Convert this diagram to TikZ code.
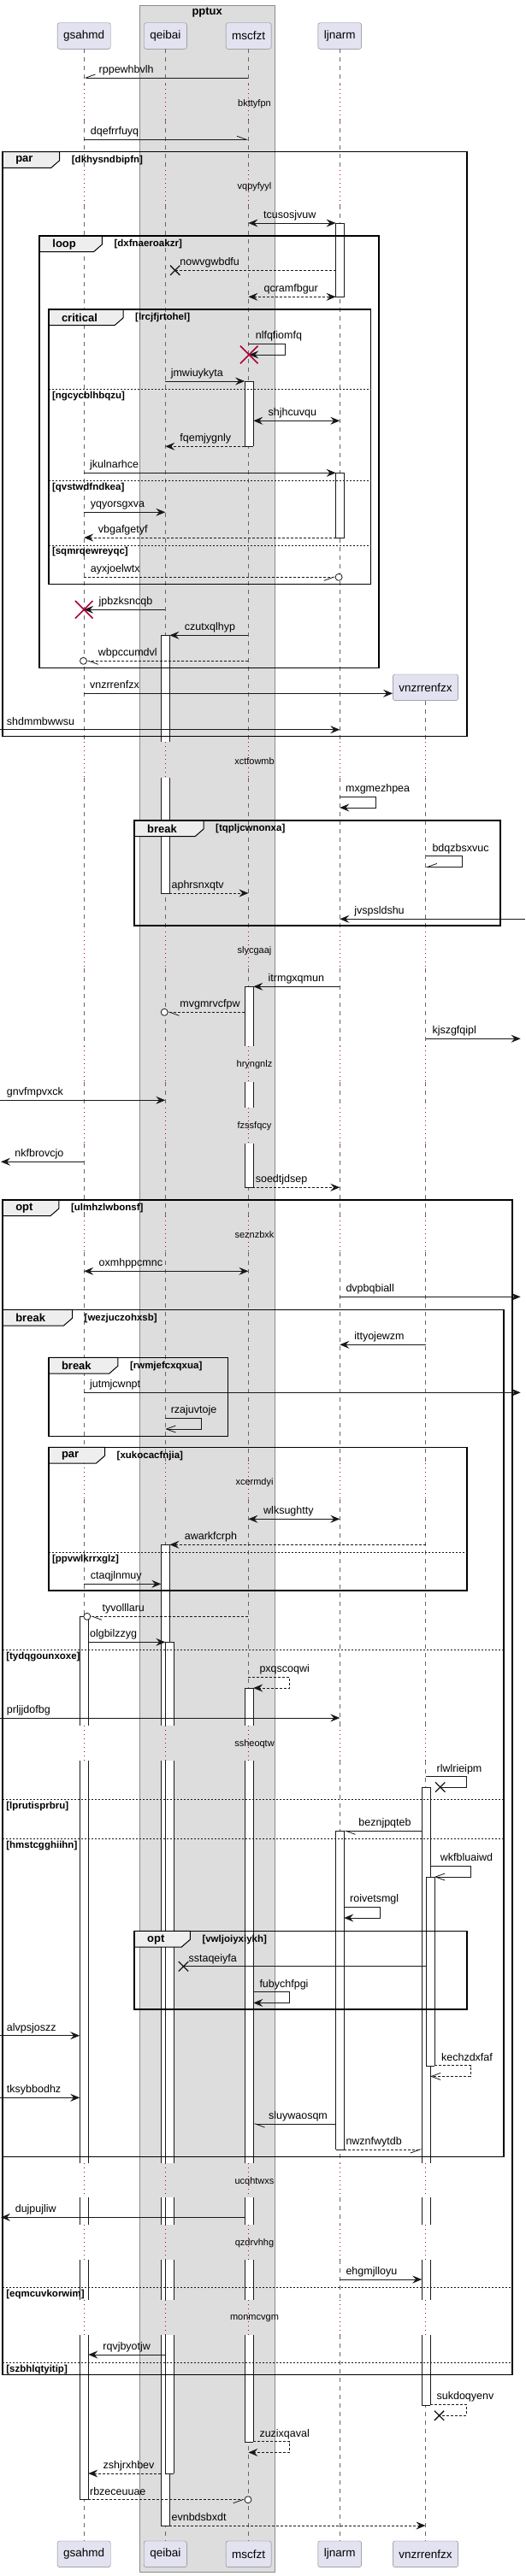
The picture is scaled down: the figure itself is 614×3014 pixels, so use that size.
\documentclass[tikz,border=0pt]{standalone}
\usepackage{fontspec}
\setmainfont{Liberation Sans}
\usepackage{xcolor}
\usetikzlibrary{arrows.meta, shapes.misc, positioning, calc}

\definecolor{partfill}{HTML}{E2E2F0}
\definecolor{partline}{HTML}{7F7F86}
\definecolor{boxfill}{HTML}{DDDDDD}
\definecolor{boxline}{HTML}{8A8A8A}
\definecolor{tabfill}{HTML}{EEEEEE}
\definecolor{killred}{HTML}{A80036}
\definecolor{ink}{HTML}{181818}

% message: style, x from, x to, y, label x, text
\newcommand{\seqmsg}[6]{%
  \coordinate (#6-a) at (#2,#4);
  \coordinate (#6-b) at (#3,#4);
  \draw[#1] (#6-a) -- (#6-b);
  \node[msglbl] (#6-txt) at (#5,#4-5.5) {#6};}
% self message: style, x from, x right, x back, y, label x, text
\newcommand{\selfcall}[7]{%
  \coordinate (#7-a) at (#2,#5);
  \coordinate (#7-b) at (#4,#5+12.7);
  \draw[#1] (#7-a) -| (#3,#5+12.7) -- (#7-b);
  \node[msglbl] (#7-txt) at (#6,#5-5.5) {#7};}
% group: x0, y0, x1, y1, tab width, keyword, condition
\newcommand{\seqgroup}[7]{%
  \draw[tabbox] (#1,#2) -- (#1+#5,#2) -- (#1+#5,#2+10) -- (#1+#5-10,#2+18.7) -- (#1,#2+18.7) -- cycle;
  \draw[grpframe] (#1,#2) rectangle (#3,#4);
  \node[grpkw] (#7-kw) at (#1+15,#2+10) {#6};
  \node[grpcond] (#7) at (#1+#5+14,#2+10) {[#7]};}
% else line: x0, x1, y, condition
\newcommand{\groupelse}[4]{%
  \draw[divline] (#1,#3) -- (#2,#3);
  \node[grpcond] (#4) at (#1+4,#3+8) {[#4]};}
\newcommand{\seqdelay}[2]{\node[delaytxt] (#2) at (297.5,#1) {#2};}

\begin{document}
\begin{tikzpicture}[x=1pt, y=-1pt,
  >={Stealth[length=11pt,width=9pt,inset=4pt]},
  part/.style={draw=partline, fill=partfill, rounded corners=2.5pt, minimum height=30.6pt, inner xsep=7pt, font=\fontsize{13.5}{16}\selectfont},
  msglbl/.style={anchor=base west, inner sep=0pt, font=\fontsize{12.5}{15}\selectfont},
  delaytxt/.style={inner sep=0pt, font=\fontsize{11}{13}\selectfont},
  grpkw/.style={anchor=west, inner sep=0pt, font=\bfseries\fontsize{13}{15}\selectfont},
  grpcond/.style={anchor=west, inner sep=0pt, font=\bfseries\fontsize{11.5}{14}\selectfont},
  lifeline/.style={draw=black!60, line width=0.6pt, dash pattern=on 5pt off 5pt},
  paused/.style={draw=killred, line width=0.8pt, dash pattern=on 1pt off 4pt},
  grpframe/.style={draw=black, line width=1.5pt},
  tabbox/.style={draw=black, line width=1pt, fill=tabfill},
  divline/.style={draw=ink, line width=0.6pt, dash pattern=on 2pt off 2pt},
  actline/.style={draw=ink, line width=0.8pt},
  msgline/.style={draw=ink, line width=0.8pt},
  msgdash/.style={msgline, dash pattern=on 3pt off 2pt},
  call/.style={msgline, ->}, reply/.style={msgdash, ->},
  callboth/.style={msgline, <->}, replyboth/.style={msgdash, <->},
  callhl/.style={msgline, -{Straight Barb[harpoon, length=11pt, width=8pt]}},
  callhr/.style={msgline, -{Straight Barb[harpoon, swap, length=11pt, width=8pt]}},
  replyhl/.style={msgdash, -{Straight Barb[harpoon, length=11pt, width=8pt]}},
  replyhr/.style={msgdash, -{Straight Barb[harpoon, swap, length=11pt, width=8pt]}},
  callopen/.style={msgline, -{Straight Barb[length=11pt, width=8pt]}},
  replyopen/.style={msgdash, -{Straight Barb[length=11pt, width=8pt]}},
  callbare/.style={msgline}, replybare/.style={msgdash},
  xend/.style={cross out, draw=ink, line width=1.3pt, minimum size=10pt, inner sep=0pt},
  kill/.style={cross out, draw=killred, line width=1.6pt, minimum size=19pt, inner sep=0pt},
  oend/.style={circle, draw=ink, fill=white, line width=0.8pt, minimum size=8pt, inner sep=0pt}]

\useasboundingbox (0,0) rectangle (614,3014);
\fill[white] (0,0) rectangle (614,3014);

% box
\draw[draw=boxline, fill=boxfill] (163.2,6) rectangle (321.3,3009);
\node[font=\bfseries\fontsize{13}{15}\selectfont] (pptux) at (242.2,15) {pptux};

% participants
\node[part] (gsahmd) at (98.2,42) {gsahmd};
\node[part] (qeibai) at (193.3,42) {qeibai};
\node[part] (mscfzt) at (290.6,42) {mscfzt};
\node[part] (ljnarm) at (397.2,42) {ljnarm};
\node[part] (vnzrrenfzx) at (497.5,804.3) {vnzrrenfzx};
\node[part] (gsahmd-b) at (98.2,2988.3) {gsahmd};
\node[part] (qeibai-b) at (193.3,2988.3) {qeibai};
\node[part] (mscfzt-b) at (290.6,2988.3) {mscfzt};
\node[part] (ljnarm-b) at (397.2,2988.3) {ljnarm};
\node[part] (vnzrrenfzx-b) at (497.5,2988.3) {vnzrrenfzx};

% lifelines
\foreach \p in {gsahmd,qeibai,mscfzt,ljnarm}{
  \foreach \a/\b in {57.3/99,140/199,240/868,910/1090,1133/1224,1266/1296,1338/1423,1465/1712,1754/2019,2060/2531,2571/2603,2644/2691,2732/2972.3}
    {\draw[lifeline] (\p |- 0,\a) -- (\p |- 0,\b);}
  \foreach \a/\b in {99/140,199/240,868/910,1090/1133,1224/1266,1296/1338,1423/1465,1712/1754,2019/2060,2531/2571,2603/2644,2691/2732}
    {\draw[paused] (\p |- 0,\a) -- (\p |- 0,\b);}
}
\foreach \a/\b in {820.3/868,910/1090,1133/1224,1266/1296,1338/1423,1465/1712,1754/2019,2060/2531,2571/2603,2644/2691,2732/2972.3}
  {\draw[lifeline] (vnzrrenfzx |- 0,\a) -- (vnzrrenfzx |- 0,\b);}
\foreach \a/\b in {868/910,1090/1133,1224/1266,1296/1338,1423/1465,1712/1754,2019/2060,2531/2571,2603/2644,2691/2732}
  {\draw[paused] (vnzrrenfzx |- 0,\a) -- (vnzrrenfzx |- 0,\b);}

% activations
\foreach \x/\a/\b/\t/\e in {397.5/261/347.7/1/1, 397.5/553.3/629/1/1, 397.5/2142.3/2515/1/1,
  291.2/446/522.3/1/1, 291.2/1154.3/1224/1/0, 291.2/1266/1296/0/0, 291.2/1338/1389.3/0/1,
  291.2/1975.3/2019/1/0, 291.2/2060/2531/0/0, 291.2/2571/2603/0/0, 291.2/2644/2691/0/0, 291.2/2732/2857.3/0/1,
  193.4/743.3/868/1/0, 193.4/910/1045/0/1, 193.4/1807.3/2019/1/0, 193.4/2060/2531/0/0, 193.4/2571/2603/0/0, 193.4/2644/2691/0/0, 193.4/2732/2955/0/1,
  198.4/1921.3/2019/1/0, 198.4/2060/2531/0/0, 198.4/2571/2603/0/0, 198.4/2644/2691/0/0, 198.4/2732/2894/0/1,
  98.2/1891.3/2019/1/0, 98.2/2060/2531/0/0, 98.2/2571/2603/0/0, 98.2/2644/2691/0/0, 98.2/2732/2924.7/0/1,
  498.1/2091/2531/1/0, 498.1/2571/2603/0/0, 498.1/2644/2691/0/0, 498.1/2732/2814/0/1,
  503.1/2196.3/2417.3/1/1}{
  \fill[white] (\x-5,\a) rectangle (\x+5,\b);
  \draw[actline] (\x-5,\a) -- (\x-5,\b) (\x+5,\a) -- (\x+5,\b);
  \ifnum\t=1 \draw[actline] (\x-5,\a) -- (\x+5,\a);\fi
  \ifnum\e=1 \draw[actline] (\x-5,\b) -- (\x+5,\b);\fi
}

% groups
\seqgroup{3.1}{177.7}{546}{861.7}{66.6}{par}{dkhysndbipfn}
\seqgroup{46.2}{276}{443}{781.7}{73.2}{loop}{dxfnaeroakzr}
\seqgroup{56.8}{362}{433.3}{683.7}{87.2}{critical}{lrcjfjrtohel}
\groupelse{56.8}{433.3}{455.3}{ngcycblhbqzu}
\groupelse{56.8}{433.3}{562.3}{qvstwdfndkea}
\groupelse{56.8}{433.3}{638}{sqmrqewreyqc}
\seqgroup{157}{960}{585.1}{1083}{81}{break}{tqpljcwnonxa}
\seqgroup{3.1}{1404}{599.2}{2778.3}{65.8}{opt}{ulmhzlwbonsf}
\groupelse{3.1}{599.2}{2676}{eqmcuvkorwim}
\groupelse{3.1}{599.2}{2764.3}{szbhlqtyitip}
\seqgroup{3.1}{1532.3}{589}{2523.3}{81.4}{break}{wezjuczohxsb}
\groupelse{3.1}{589}{1930.3}{tydqgounxoxe}
\groupelse{3.1}{589}{2105.3}{lprutisprbru}
\groupelse{3.1}{589}{2151.3}{hmstcgghiihn}
\seqgroup{56.8}{1588.3}{266.5}{1680.7}{81}{break}{rwmjefcxqxua}
\seqgroup{56.8}{1693.3}{546}{1861}{65.7}{par}{xukocacfnjia}
\groupelse{56.8}{546}{1816.3}{ppvwlkrrxglz}
\seqgroup{157}{2259.3}{546}{2351}{65.3}{opt}{vwljoiyxiykh}

% delays
\seqdelay{121.7}{bkttyfpn}
\seqdelay{219}{vqpyfyyl}
\seqdelay{890.7}{xctfowmb}
\seqdelay{1112.7}{slycgaaj}
\seqdelay{1246}{hryngnlz}
\seqdelay{1317.7}{fzssfqcy}
\seqdelay{1445}{seznzbxk}
\seqdelay{1734.3}{xcermdyi}
\seqdelay{2040.7}{ssheoqtw}
\seqdelay{2552.7}{ucqhtwxs}
\seqdelay{2624.3}{qzdrvhhg}
\seqdelay{2712.3}{monmcvgm}

% messages
\seqmsg{callhr}{290.4}{98.2}{91}{115.5}{rppewhbvlh}
\seqmsg{callhl}{98.2}{290.4}{163.3}{105.7}{dqefrrfuyq}
\seqmsg{callboth}{290.4}{392.6}{261}{308}{tcusosjvuw}
\node[xend] (nowx) at (204.7,316.3) {};
\seqmsg{replybare}{392.6}{204.7}{316.3}{210.2}{nowvgwbdfu}
\seqmsg{replyboth}{290.4}{392.6}{347.3}{308.4}{qcramfbgur}
\selfcall{call}{290.4}{333.1}{291.2}{402.3}{298.6}{nlfqfiomfq}
\node[kill] (nlfx) at (291.2,415) {};
\seqmsg{call}{193.3}{286.1}{446}{199.6}{jmwiuykyta}
\seqmsg{callboth}{296.3}{397.3}{492.3}{313.5}{shjhcuvqu}
\seqmsg{reply}{286.1}{193.3}{522.3}{210.2}{fqemjygnly}
\seqmsg{call}{98.2}{392.6}{553.3}{104.9}{jkulnarhce}
\seqmsg{call}{98.2}{193.3}{599.3}{105.7}{yqyorsgxva}
\seqmsg{reply}{392.6}{98.2}{629}{114.7}{vbgafgetyf}
\node[oend] (ayxo) at (396.1,675.3) {};
\seqmsg{replyhr}{98.2}{392.1}{675.3}{105.7}{ayxjoelwtx}
\seqmsg{call}{193.3}{98.2}{713.3}{115.5}{jpbzksncqb}
\node[kill] (jpbx) at (98.2,713.3) {};
\seqmsg{call}{290.4}{198.4}{743.3}{215.7}{czutxqlhyp}
\node[oend] (wbpo) at (97.5,773.3) {};
\seqmsg{replyhl}{290.4}{101.5}{773.3}{114.7}{wbpccumdvl}
\seqmsg{call}{98.2}{459.1}{811.3}{104.9}{vnzrrenfzx}
\seqmsg{call}{0}{397.3}{853.7}{7.8}{shdmmbwwsu}
\selfcall{call}{397.3}{439.1}{397.3}{932.3}{403.9}{mxgmezhpea}
\selfcall{callhr}{497.5}{540.5}{497.5}{1001.7}{505.3}{bdqzbsxvuc}
\seqmsg{reply}{198.4}{290.4}{1045}{200.4}{aphrsnxqtv}
\seqmsg{call}{614}{397.3}{1075.3}{414.1}{jvspsldshu}
\seqmsg{call}{397.3}{296.3}{1154.3}{313.5}{itrmgxqmun}
\node[oend] (mvgo) at (192.2,1184.3) {};
\seqmsg{replyhl}{286.1}{196.2}{1184.3}{210.2}{mvgmrvcfpw}
\seqmsg{call}{497.5}{608.6}{1215.3}{505.3}{kjszgfqipl}
\seqmsg{call}{0}{193.3}{1287.3}{7.8}{gnvfmpvxck}
\seqmsg{call}{98.2}{1}{1359.3}{17.2}{nkfbrovcjo}
\seqmsg{reply}{290.4}{397.3}{1389.3}{298.6}{soedtjdsep}
\seqmsg{callboth}{98.2}{290.4}{1487.3}{115.5}{oxmhppcmnc}
\seqmsg{call}{397.3}{608.6}{1517.3}{404.3}{dvpbqbiall}
\seqmsg{call}{497.5}{397.3}{1573.3}{414.1}{ittyojewzm}
\seqmsg{call}{98.2}{608.6}{1629.3}{104.9}{jutmjcwnpt}
\selfcall{callopen}{193.3}{235.2}{193.3}{1659.3}{199.6}{rzajuvtoje}
\seqmsg{callboth}{290.4}{397.3}{1777.3}{308}{wlksughtty}
\seqmsg{reply}{497.5}{198.4}{1807.3}{215.7}{awarkfcrph}
\seqmsg{call}{98.2}{188.3}{1853.3}{105.7}{ctaqjlnmuy}
\node[oend] (tyvo) at (101.8,1891.3) {};
\seqmsg{replyhl}{290.4}{105.8}{1891.3}{119.4}{tyvolllaru}
\seqmsg{call}{103.3}{193.3}{1921.3}{104.9}{olgbilzzyg}
\selfcall{reply}{290.4}{338.6}{296.3}{1962.3}{303.3}{pxqscoqwi}
\seqmsg{call}{0}{397.3}{2010}{7.8}{prljjdofbg}
\selfcall{callbare}{497.5}{545.2}{514.7}{2078.7}{510.4}{rlwlrieipm}
\node[xend] (rlwx) at (514.7,2091) {};
\seqmsg{callhl}{493.2}{402.3}{2142.3}{419.2}{beznjpqteb}
\selfcall{callopen}{503}{550.3}{508}{2183.3}{514.7}{wkfbluaiwd}
\selfcall{call}{402.3}{444.2}{402.3}{2231.3}{409}{roivetsmgl}
\node[xend] (sstx) at (214.5,2300.7) {};
\seqmsg{callbare}{497.5}{214.5}{2300.7}{220.4}{sstaqeiyfa}
\selfcall{call}{296.3}{338.2}{296.3}{2330.7}{303.3}{fubychfpgi}
\seqmsg{call}{0}{93.2}{2381.7}{7.8}{alvpsjoszz}
\selfcall{replyopen}{508}{550.3}{503}{2416.7}{515.9}{kechzdxfaf}
\seqmsg{call}{0}{93.2}{2454.3}{7.8}{tksybbodhz}
\seqmsg{callhl}{392.6}{296.3}{2485}{313.9}{sluywaosqm}
\seqmsg{replyhr}{402.3}{493.2}{2515}{404.3}{nwznfwytdb}
\seqmsg{call}{286.1}{1}{2594.3}{17.6}{dujpujliw}
\seqmsg{call}{397.3}{493.2}{2667}{404.3}{ehgmjlloyu}
\seqmsg{call}{193.3}{103.3}{2755}{120.2}{rqvjbyotjw}
\selfcall{replybare}{503}{545.2}{513.5}{2813.3}{510.4}{sukdoqyenv}
\node[xend] (sukx) at (513.5,2826.3) {};
\selfcall{reply}{296.3}{338.6}{290.4}{2856.7}{303.3}{zuzixqaval}
\seqmsg{reply}{188.3}{103.3}{2894}{120.5}{zshjrxhbev}
\node[oend] (rbzo) at (290,2924.7) {};
\seqmsg{replyhr}{103.3}{286}{2924.7}{104.9}{rbzeceuuae}
\seqmsg{reply}{198.4}{497.5}{2955}{200.4}{evnbdsbxdt}
\end{tikzpicture}
\end{document}
